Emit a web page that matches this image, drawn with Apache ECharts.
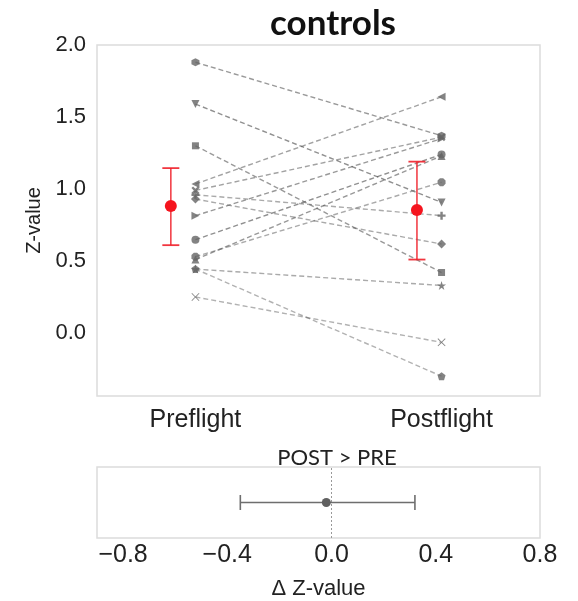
<!DOCTYPE html>
<html>
<head>
<meta charset="utf-8">
<script src="https://cdn.jsdelivr.net/npm/echarts@6/dist/echarts.min.js"></script>
<style>html,body{margin:0;padding:0;background:#fff}#c{width:578px;height:601px}</style>
</head>
<body>
<div id="c"></div>
<script>
// ---- data ----
const categories = ['Preflight', 'Postflight'];
const preValues  = [1.88, 1.59, 1.30, 1.035, 0.99, 0.96, 0.93, 0.815, 0.648, 0.53, 0.51, 0.444, 0.444, 0.25];
const postValues = [1.37, 0.907, 0.42, 1.64, 1.36, 0.815, 0.618, 1.35, 1.24, 1.047, 1.23, 0.33, -0.30, -0.065];
const groupMeans = [0.882, 0.854];
const groupLower = [0.61, 0.51];
const groupUpper = [1.145, 1.19];
const deltaMean = [-0.02];
const deltaLower = [-0.35];
const deltaUpper = [0.32];
const yTicks = [0, 0.5, 1.0, 1.5, 2.0];
const deltaTicks = [-0.8, -0.4, 0.0, 0.4, 0.8];

// ---- marker shapes (one per subject) ----
const P = {
  hex: 'path://M0,-1L0.866,-0.5L0.866,0.5L0,1L-0.866,0.5L-0.866,-0.5Z',
  X: 'path://M-1,-0.6L-0.6,-1L0,-0.4L0.6,-1L1,-0.6L0.4,0L1,0.6L0.6,1L0,0.4L-0.6,1L-1,0.6L-0.4,0Z',
  plus: 'path://M-0.3,-1L0.3,-1L0.3,-0.3L1,-0.3L1,0.3L0.3,0.3L0.3,1L-0.3,1L-0.3,0.3L-1,0.3L-1,-0.3L-0.3,-0.3Z',
  oct: 'path://M-0.41,-1L0.41,-1L1,-0.41L1,0.41L0.41,1L-0.41,1L-1,0.41L-1,-0.41Z',
  star: 'path://M0,-1L0.225,-0.309L0.951,-0.309L0.363,0.118L0.588,0.809L0,0.382L-0.588,0.809L-0.363,0.118L-0.951,-0.309L-0.225,-0.309Z',
  pent: 'path://M0,-1L0.951,-0.309L0.588,0.809L-0.588,0.809L-0.951,-0.309Z',
  xthin: 'path://M-1,-0.85L-0.85,-1L0,-0.15L0.85,-1L1,-0.85L0.15,0L1,0.85L0.85,1L0,0.15L-0.85,1L-1,0.85L-0.15,0Z'
};
const markers = [
  [P.hex, 0, 8], ['triangle', 180, 8], ['rect', 0, 7], ['triangle', 90, 8],
  [P.X, 0, 8], [P.plus, 0, 8], ['diamond', 0, 9], ['triangle', -90, 8],
  ['circle', 0, 8], [P.oct, 0, 8], ['triangle', 0, 8], [P.star, 0, 9],
  [P.pent, 0, 8], [P.xthin, 0, 8]
];
const lineAlpha = [0.6, 0.65, 0.6, 0.55, 0.55, 0.5, 0.5, 0.6, 0.65, 0.5, 0.6, 0.5, 0.45, 0.45];

const subjectSeries = preValues.map((v, i) => ({
  type: 'line', xAxisIndex: 0, yAxisIndex: 0,
  data: [[0, v], [1, postValues[i]]],
  symbol: markers[i][0], symbolRotate: markers[i][1], symbolSize: markers[i][2],
  showSymbol: true, silent: true, animation: false, z: 2,
  lineStyle: { color: 'rgba(85,85,85,' + lineAlpha[i] + ')', width: 1.4, type: [5, 3] },
  itemStyle: { color: 'rgba(100,100,100,0.8)', borderWidth: 0 }
}));

const redData = groupMeans.map((m, i) => [i - 0.1, m, groupLower[i], groupUpper[i]]);
const deltaData = deltaMean.map((m, i) => [m, 1, deltaLower[i], deltaUpper[i]]);

function vBar(params, api) {
  const x = api.value(0), m = api.value(1), lo = api.value(2), hi = api.value(3);
  const pm = api.coord([x, m]), pl = api.coord([x, lo]), ph = api.coord([x, hi]);
  const red = '#f0202a', cw = 8.5;
  return { type: 'group', children: [
    { type: 'line', shape: { x1: pl[0], y1: pl[1], x2: ph[0], y2: ph[1] }, style: { stroke: red, lineWidth: 1.6, opacity: 0.85 } },
    { type: 'line', shape: { x1: pl[0] - cw, y1: pl[1], x2: pl[0] + cw, y2: pl[1] }, style: { stroke: red, lineWidth: 1.8, opacity: 0.9 } },
    { type: 'line', shape: { x1: ph[0] - cw, y1: ph[1], x2: ph[0] + cw, y2: ph[1] }, style: { stroke: red, lineWidth: 1.8, opacity: 0.9 } },
    { type: 'circle', shape: { cx: pm[0], cy: pm[1], r: 6 }, style: { fill: '#f5141e' } }
  ]};
}
function hBar(params, api) {
  const m = api.value(0), y = api.value(1), lo = api.value(2), hi = api.value(3);
  const pm = api.coord([m, y]), pl = api.coord([lo, y]), ph = api.coord([hi, y]);
  const g = '#6e6e6e', ch = 7.5;
  return { type: 'group', children: [
    { type: 'line', shape: { x1: pl[0], y1: pl[1], x2: ph[0], y2: ph[1] }, style: { stroke: g, lineWidth: 1.6 } },
    { type: 'line', shape: { x1: pl[0], y1: pl[1] - ch, x2: pl[0], y2: pl[1] + ch }, style: { stroke: g, lineWidth: 1.6 } },
    { type: 'line', shape: { x1: ph[0], y1: ph[1] - ch, x2: ph[0], y2: ph[1] + ch }, style: { stroke: g, lineWidth: 1.6 } },
    { type: 'circle', shape: { cx: pm[0], cy: pm[1], r: 4.5 }, style: { fill: '#606060' } }
  ]};
}

const chart = echarts.init(document.getElementById('c'), null, { renderer: 'canvas' });
const labelFont = 'Liberation Sans, Arial, sans-serif';
chart.setOption({
  animation: false,
  backgroundColor: '#fff',
  title: [
    { text: 'controls', left: 328, top: 1, textAlign: 'center',
      textStyle: { fontFamily: 'Lato, Open Sans, sans-serif', fontWeight: 'bold', fontSize: 35, color: '#111' } },
    { text: 'POST > PRE', left: 332, top: 442, textAlign: 'center',
      textStyle: { fontFamily: 'Lato, Open Sans, sans-serif', fontWeight: 'normal', fontSize: 22, color: '#222' } }
  ],
  grid: [
    { left: 97, top: 45, width: 443, height: 351, show: true, borderColor: '#dcdcdc', borderWidth: 1.5, backgroundColor: '#fff' },
    { left: 97, top: 467, width: 443, height: 71, show: true, borderColor: '#dcdcdc', borderWidth: 1.5, backgroundColor: '#fff' }
  ],
  xAxis: [
    { type: 'value', gridIndex: 0, min: -0.4, max: 1.4,
      axisLine: { show: false }, axisTick: { show: false }, splitLine: { show: false },
      axisLabel: { customValues: [0, 1], formatter: v => categories[Math.round(v)], margin: 12,
        fontSize: 25, color: '#222', fontFamily: labelFont } },
    { type: 'value', gridIndex: 1, min: -0.9, max: 0.8,
      axisLine: { show: false }, axisTick: { show: false }, splitLine: { show: false },
      axisLabel: { customValues: deltaTicks, formatter: v => (v < 0 ? '\u2212' : '') + Math.abs(v).toFixed(1), margin: 5,
        fontSize: 25, color: '#222', fontFamily: labelFont },
      name: '\u0394 Z-value', nameLocation: 'middle', nameGap: 40,
      nameTextStyle: { fontSize: 22, color: '#222', fontFamily: labelFont } }
  ],
  yAxis: [
    { type: 'value', gridIndex: 0, min: -0.4375, max: 2.0,
      axisLine: { show: false }, axisTick: { show: false }, splitLine: { show: false },
      axisLabel: { customValues: yTicks, formatter: v => v.toFixed(1), margin: 11,
        fontSize: 22, color: '#222', fontFamily: labelFont },
      name: 'Z-value', nameLocation: 'middle', nameGap: 51,
      nameTextStyle: { fontSize: 20, color: '#222', fontFamily: labelFont } },
    { type: 'value', gridIndex: 1, min: 0, max: 2, show: false }
  ],
  series: [
    ...subjectSeries,
    { type: 'custom', xAxisIndex: 0, yAxisIndex: 0, renderItem: vBar, data: redData, z: 5, silent: true },
    { type: 'custom', xAxisIndex: 1, yAxisIndex: 1, renderItem: hBar, data: deltaData, z: 5, silent: true,
      markLine: { silent: true, symbol: 'none', label: { show: false },
        lineStyle: { color: '#999', type: [2, 2], width: 1 }, data: [{ xAxis: 0 }] } }
  ]
});
</script>
</body>
</html>
